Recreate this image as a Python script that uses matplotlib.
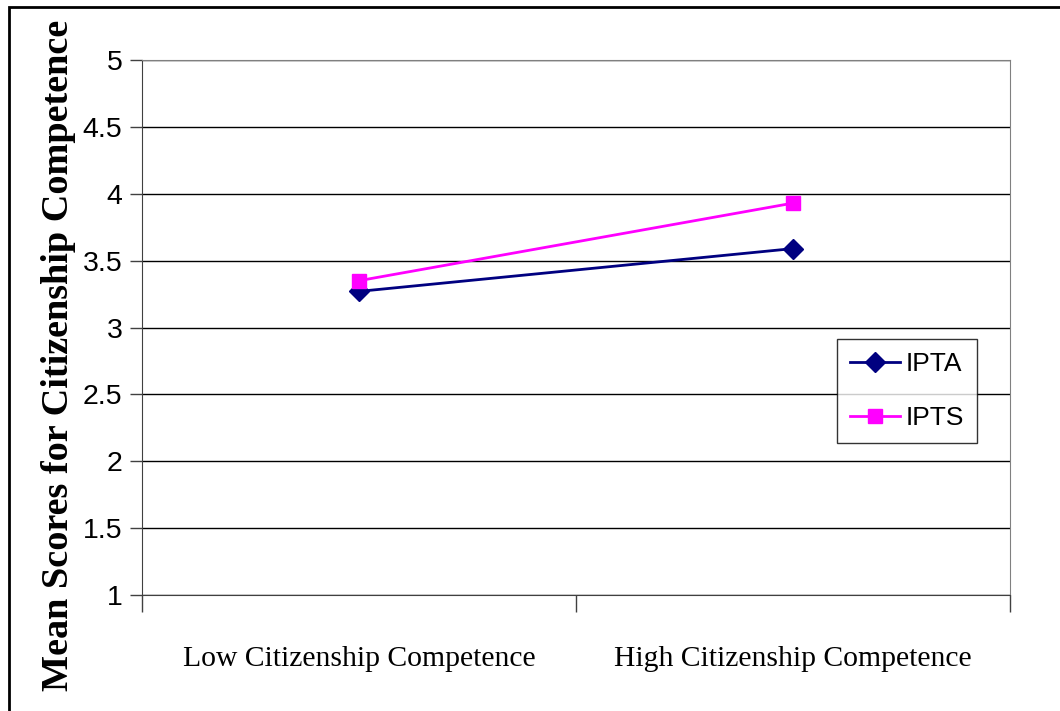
import matplotlib.pyplot as plt
from matplotlib.patches import Rectangle

# Mean citizenship competence scores by group
groups = ["Low Citizenship Competence", "High Citizenship Competence"]
ipta = [3.27, 3.59]
ipts = [3.35, 3.93]
y_ticks = [1, 1.5, 2, 2.5, 3, 3.5, 4, 4.5, 5]
y_tick_labels = ["1", "1.5", "2", "2.5", "3", "3.5", "4", "4.5", "5"]

fig = plt.figure(figsize=(10.6, 7.11), dpi=100)
ax = fig.add_axes([142 / 1060, 1 - 595 / 711, 868 / 1060, 535 / 711])

x = [0.5, 1.5]
ax.plot(x, ipta, color="#000080", lw=2, marker="D", ms=10, label="IPTA")
ax.plot(x, ipts, color="#FF00FF", lw=2, marker="s", ms=10, label="IPTS")

ax.set_xlim(0, 2)
ax.set_ylim(1, 5)
ax.set_yticks(y_ticks)
ax.set_yticklabels(y_tick_labels, family="Liberation Sans", fontsize=20.5)
ax.yaxis.grid(True, color="black", lw=1)
ax.set_axisbelow(True)

# category boundaries as major ticks, names centred on minor ticks
ax.set_xticks([0, 1, 2])
ax.set_xticklabels(["", "", ""])
ax.set_xticks(x, minor=True)
ax.set_xticklabels(groups, minor=True, family="Liberation Serif", fontsize=21.3)
ax.tick_params(axis="x", which="major", length=12, width=1, color="#404040")
ax.tick_params(axis="x", which="minor", length=0, pad=37)
ax.tick_params(axis="y", length=9, width=1, color="#404040", pad=5)

for side in ["top", "right"]:
    ax.spines[side].set_color("#808080")
for side in ["left", "bottom"]:
    ax.spines[side].set_color("#404040")

fig.text(59 / 1060, 1 - 355 / 711, "Mean Scores for Citizenship Competence",
         family="Liberation Serif", fontweight="bold", fontsize=27.5,
         rotation=90, ha="center", va="center")

leg = ax.legend(loc="upper left", bbox_to_anchor=(837 / 1060, 1 - 339 / 711),
                bbox_transform=fig.transFigure, fancybox=False, frameon=True,
                prop={"family": "Liberation Sans", "size": 19},
                handlelength=1.9, handletextpad=0.2, borderpad=0.5,
                labelspacing=1.14, borderaxespad=0)
leg.get_frame().set_edgecolor("black")
leg.get_frame().set_linewidth(1)

# outer chart border (left and top edges visible)
fig.add_artist(Rectangle((9 / 1060, -0.1), 1.1, 1 - 7 / 711 + 0.1,
                         transform=fig.transFigure, fill=False,
                         edgecolor="black", lw=2))

fig.savefig("out.png", dpi=100)
